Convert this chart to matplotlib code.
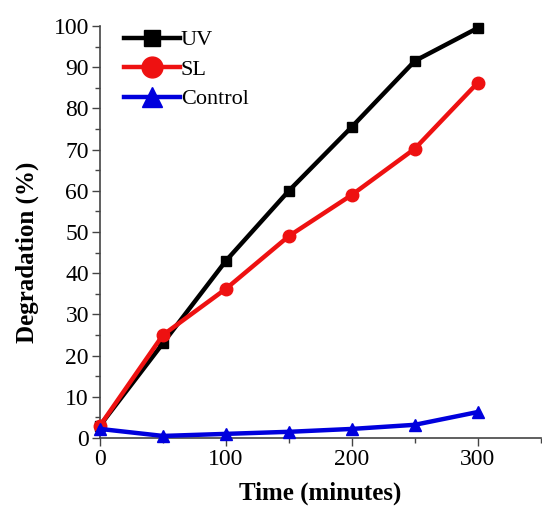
import matplotlib
matplotlib.use("Agg")
import matplotlib.pyplot as plt
from matplotlib.ticker import MultipleLocator
from matplotlib.lines import Line2D

time = [0, 50, 100, 150, 200, 250, 300]
uv = [3.0, 23.0, 43.0, 60.0, 75.5, 91.5, 99.5]
sl = [3.0, 25.0, 36.2, 49.0, 59.0, 70.2, 86.2]
control = [2.2, 0.5, 1.0, 1.5, 2.2, 3.2, 6.3]
labels = ['UV', 'SL', 'Control']
colors = ['black', '#ee1111', '#0000dd']
markers = ['s', 'o', '^']

plt.rcParams['font.family'] = ['Liberation Serif', 'DejaVu Serif']

fig = plt.figure(figsize=(5.42, 5.09), dpi=100)
ax = fig.add_axes([0.1845, 0.1395, 0.813, 0.8095])

sizes = [7.5, 9, 8.5]
for ys, lab, c, m, s in zip([uv, sl, control], labels, colors, markers, sizes):
    ax.plot(time, ys, color=c, lw=3.2, marker=m, ms=s, label=lab, clip_on=False, zorder=3)

ax.set_xlim(0, 350)
ax.set_ylim(0, 100)
ax.xaxis.set_major_locator(MultipleLocator(100))
ax.xaxis.set_minor_locator(MultipleLocator(50))
ax.yaxis.set_major_locator(MultipleLocator(10))
ax.yaxis.set_minor_locator(MultipleLocator(5))
for s in ['top', 'right']:
    ax.spines[s].set_visible(False)
for s in ['left', 'bottom']:
    ax.spines[s].set_color('#444444')
    ax.spines[s].set_linewidth(1.2)
ax.tick_params(which='major', direction='out', length=6, width=1, colors='#444444', labelcolor='black', labelsize=17, pad=2)
ax.tick_params(which='minor', direction='out', length=3.5, width=1, colors='#444444')

ax.set_xlabel('Time (minutes)', fontsize=18, fontweight='bold', labelpad=8)
ax.set_ylabel('Degradation (%)', fontsize=18, fontweight='bold')
ax.yaxis.set_label_coords(-0.138, 0.45)

handles = [Line2D([], [], color=c, lw=3.2, marker=m, ms=s)
           for c, m, s in zip(colors, markers, [12, 15, 15])]
ax.legend(handles, labels, loc='upper left', bbox_to_anchor=(0.035, 1.012), frameon=False, fontsize=16,
          handlelength=2.5, handletextpad=0.05, labelspacing=0.4, borderaxespad=0)

fig.savefig('out.png', dpi=100)
